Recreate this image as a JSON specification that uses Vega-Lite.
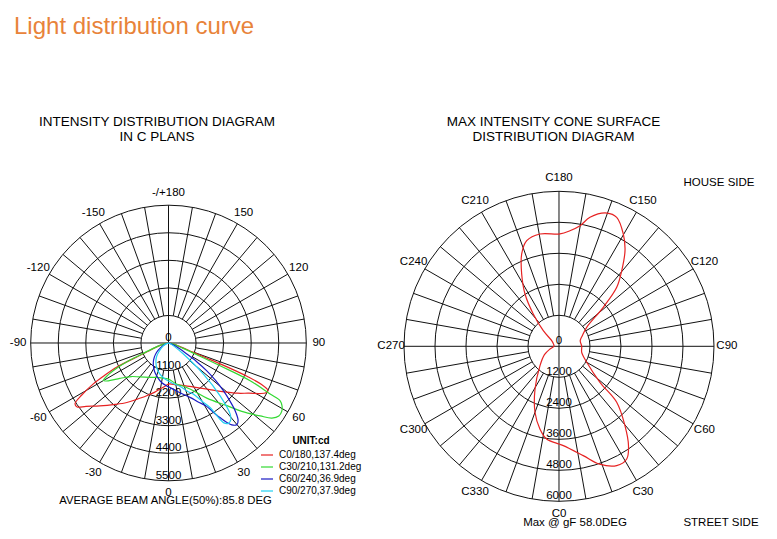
{
  "$schema": "https://vega.github.io/schema/vega-lite/v6.json",
  "padding": {"left": 0, "right": 0, "top": 15, "bottom": 0},
  "bounds": "flush",
  "spacing": 0,
  "background": "white",
  "resolve": {"scale": {"size": "independent", "color": "independent"}, "legend": {"size": "independent", "color": "independent"}},
  "title": {"text": "Light distribution curve", "anchor": "start", "frame": "group", "fontSize": 24, "color": "#E8833A", "font": "Liberation Sans", "fontWeight": "normal", "dx": 14, "offset": 76},
  "config": {"view": {"stroke": null}, "title": {"font": "Liberation Sans", "fontWeight": "normal", "color": "#000"}},
  "datasets": {
    "curves": [
      {"plane": "C0/180,137.4deg", "gamma": -90, "cd": 0},
      {"plane": "C0/180,137.4deg", "gamma": -80, "cd": 150},
      {"plane": "C0/180,137.4deg", "gamma": -72, "cd": 500},
      {"plane": "C0/180,137.4deg", "gamma": -68, "cd": 900},
      {"plane": "C0/180,137.4deg", "gamma": -66.5, "cd": 1300},
      {"plane": "C0/180,137.4deg", "gamma": -65, "cd": 2250},
      {"plane": "C0/180,137.4deg", "gamma": -63, "cd": 2900},
      {"plane": "C0/180,137.4deg", "gamma": -61.4, "cd": 3430},
      {"plane": "C0/180,137.4deg", "gamma": -59, "cd": 4050},
      {"plane": "C0/180,137.4deg", "gamma": -57, "cd": 4450},
      {"plane": "C0/180,137.4deg", "gamma": -55, "cd": 4450},
      {"plane": "C0/180,137.4deg", "gamma": -52.5, "cd": 4150},
      {"plane": "C0/180,137.4deg", "gamma": -47.5, "cd": 3720},
      {"plane": "C0/180,137.4deg", "gamma": -41, "cd": 3250},
      {"plane": "C0/180,137.4deg", "gamma": -35, "cd": 2900},
      {"plane": "C0/180,137.4deg", "gamma": -29, "cd": 2560},
      {"plane": "C0/180,137.4deg", "gamma": -22.5, "cd": 2280},
      {"plane": "C0/180,137.4deg", "gamma": -16, "cd": 2050},
      {"plane": "C0/180,137.4deg", "gamma": -10.5, "cd": 1870},
      {"plane": "C0/180,137.4deg", "gamma": -5, "cd": 1740},
      {"plane": "C0/180,137.4deg", "gamma": 0, "cd": 1640},
      {"plane": "C0/180,137.4deg", "gamma": 10, "cd": 1690},
      {"plane": "C0/180,137.4deg", "gamma": 20, "cd": 1810},
      {"plane": "C0/180,137.4deg", "gamma": 30, "cd": 2030},
      {"plane": "C0/180,137.4deg", "gamma": 40, "cd": 2400},
      {"plane": "C0/180,137.4deg", "gamma": 48, "cd": 2900},
      {"plane": "C0/180,137.4deg", "gamma": 54, "cd": 3410},
      {"plane": "C0/180,137.4deg", "gamma": 58, "cd": 3780},
      {"plane": "C0/180,137.4deg", "gamma": 61, "cd": 4160},
      {"plane": "C0/180,137.4deg", "gamma": 63, "cd": 4370},
      {"plane": "C0/180,137.4deg", "gamma": 64.5, "cd": 4400},
      {"plane": "C0/180,137.4deg", "gamma": 66, "cd": 4050},
      {"plane": "C0/180,137.4deg", "gamma": 67, "cd": 3400},
      {"plane": "C0/180,137.4deg", "gamma": 67.8, "cd": 2500},
      {"plane": "C0/180,137.4deg", "gamma": 68.5, "cd": 1600},
      {"plane": "C0/180,137.4deg", "gamma": 69.5, "cd": 1000},
      {"plane": "C0/180,137.4deg", "gamma": 72, "cd": 500},
      {"plane": "C0/180,137.4deg", "gamma": 80, "cd": 150},
      {"plane": "C0/180,137.4deg", "gamma": 90, "cd": 0},
      {"plane": "C30/210,131.2deg", "gamma": -90, "cd": 0},
      {"plane": "C30/210,131.2deg", "gamma": -80, "cd": 150},
      {"plane": "C30/210,131.2deg", "gamma": -72, "cd": 500},
      {"plane": "C30/210,131.2deg", "gamma": -68, "cd": 1000},
      {"plane": "C30/210,131.2deg", "gamma": -66, "cd": 1700},
      {"plane": "C30/210,131.2deg", "gamma": -64, "cd": 2300},
      {"plane": "C30/210,131.2deg", "gamma": -62, "cd": 2750},
      {"plane": "C30/210,131.2deg", "gamma": -60, "cd": 3000},
      {"plane": "C30/210,131.2deg", "gamma": -57.5, "cd": 2800},
      {"plane": "C30/210,131.2deg", "gamma": -54, "cd": 2400},
      {"plane": "C30/210,131.2deg", "gamma": -48, "cd": 2000},
      {"plane": "C30/210,131.2deg", "gamma": -40, "cd": 1770},
      {"plane": "C30/210,131.2deg", "gamma": -30, "cd": 1580},
      {"plane": "C30/210,131.2deg", "gamma": -19, "cd": 1450},
      {"plane": "C30/210,131.2deg", "gamma": -10, "cd": 1420},
      {"plane": "C30/210,131.2deg", "gamma": 0, "cd": 1440},
      {"plane": "C30/210,131.2deg", "gamma": 11, "cd": 1670},
      {"plane": "C30/210,131.2deg", "gamma": 20, "cd": 1850},
      {"plane": "C30/210,131.2deg", "gamma": 27.5, "cd": 2150},
      {"plane": "C30/210,131.2deg", "gamma": 35, "cd": 2700},
      {"plane": "C30/210,131.2deg", "gamma": 43, "cd": 3420},
      {"plane": "C30/210,131.2deg", "gamma": 47, "cd": 4000},
      {"plane": "C30/210,131.2deg", "gamma": 51.5, "cd": 4675},
      {"plane": "C30/210,131.2deg", "gamma": 54, "cd": 5100},
      {"plane": "C30/210,131.2deg", "gamma": 56.5, "cd": 5280},
      {"plane": "C30/210,131.2deg", "gamma": 59, "cd": 5275},
      {"plane": "C30/210,131.2deg", "gamma": 61, "cd": 5180},
      {"plane": "C30/210,131.2deg", "gamma": 62.6, "cd": 5020},
      {"plane": "C30/210,131.2deg", "gamma": 63.3, "cd": 4540},
      {"plane": "C30/210,131.2deg", "gamma": 65.2, "cd": 3590},
      {"plane": "C30/210,131.2deg", "gamma": 66.2, "cd": 2250},
      {"plane": "C30/210,131.2deg", "gamma": 67.5, "cd": 1200},
      {"plane": "C30/210,131.2deg", "gamma": 70, "cd": 600},
      {"plane": "C30/210,131.2deg", "gamma": 80, "cd": 150},
      {"plane": "C30/210,131.2deg", "gamma": 90, "cd": 0},
      {"plane": "C60/240,36.9deg", "gamma": -90, "cd": 0},
      {"plane": "C60/240,36.9deg", "gamma": -70, "cd": 150},
      {"plane": "C60/240,36.9deg", "gamma": -60, "cd": 350},
      {"plane": "C60/240,36.9deg", "gamma": -52, "cd": 600},
      {"plane": "C60/240,36.9deg", "gamma": -45, "cd": 800},
      {"plane": "C60/240,36.9deg", "gamma": -38, "cd": 985},
      {"plane": "C60/240,36.9deg", "gamma": -31, "cd": 1150},
      {"plane": "C60/240,36.9deg", "gamma": -25, "cd": 1290},
      {"plane": "C60/240,36.9deg", "gamma": -17, "cd": 1450},
      {"plane": "C60/240,36.9deg", "gamma": -10, "cd": 1600},
      {"plane": "C60/240,36.9deg", "gamma": 0, "cd": 1750},
      {"plane": "C60/240,36.9deg", "gamma": 8, "cd": 1900},
      {"plane": "C60/240,36.9deg", "gamma": 15, "cd": 2100},
      {"plane": "C60/240,36.9deg", "gamma": 22, "cd": 2350},
      {"plane": "C60/240,36.9deg", "gamma": 27, "cd": 2650},
      {"plane": "C60/240,36.9deg", "gamma": 30.5, "cd": 2900},
      {"plane": "C60/240,36.9deg", "gamma": 34.5, "cd": 3600},
      {"plane": "C60/240,36.9deg", "gamma": 37.7, "cd": 4130},
      {"plane": "C60/240,36.9deg", "gamma": 40, "cd": 4250},
      {"plane": "C60/240,36.9deg", "gamma": 42, "cd": 4150},
      {"plane": "C60/240,36.9deg", "gamma": 44.5, "cd": 3800},
      {"plane": "C60/240,36.9deg", "gamma": 47, "cd": 3300},
      {"plane": "C60/240,36.9deg", "gamma": 49, "cd": 2900},
      {"plane": "C60/240,36.9deg", "gamma": 51.5, "cd": 2400},
      {"plane": "C60/240,36.9deg", "gamma": 54, "cd": 1890},
      {"plane": "C60/240,36.9deg", "gamma": 56.5, "cd": 1350},
      {"plane": "C60/240,36.9deg", "gamma": 59, "cd": 850},
      {"plane": "C60/240,36.9deg", "gamma": 63, "cd": 450},
      {"plane": "C60/240,36.9deg", "gamma": 70, "cd": 150},
      {"plane": "C60/240,36.9deg", "gamma": 80, "cd": 30},
      {"plane": "C60/240,36.9deg", "gamma": 90, "cd": 0},
      {"plane": "C90/270,37.9deg", "gamma": -90, "cd": 0},
      {"plane": "C90/270,37.9deg", "gamma": -70, "cd": 100},
      {"plane": "C90/270,37.9deg", "gamma": -60, "cd": 250},
      {"plane": "C90/270,37.9deg", "gamma": -50, "cd": 450},
      {"plane": "C90/270,37.9deg", "gamma": -42, "cd": 700},
      {"plane": "C90/270,37.9deg", "gamma": -34, "cd": 900},
      {"plane": "C90/270,37.9deg", "gamma": -25, "cd": 1100},
      {"plane": "C90/270,37.9deg", "gamma": -15, "cd": 1300},
      {"plane": "C90/270,37.9deg", "gamma": -5, "cd": 1450},
      {"plane": "C90/270,37.9deg", "gamma": 5, "cd": 1600},
      {"plane": "C90/270,37.9deg", "gamma": 15, "cd": 1800},
      {"plane": "C90/270,37.9deg", "gamma": 22, "cd": 2100},
      {"plane": "C90/270,37.9deg", "gamma": 26, "cd": 2270},
      {"plane": "C90/270,37.9deg", "gamma": 30, "cd": 2700},
      {"plane": "C90/270,37.9deg", "gamma": 32.8, "cd": 3060},
      {"plane": "C90/270,37.9deg", "gamma": 34.6, "cd": 3860},
      {"plane": "C90/270,37.9deg", "gamma": 36.7, "cd": 4000},
      {"plane": "C90/270,37.9deg", "gamma": 39, "cd": 3950},
      {"plane": "C90/270,37.9deg", "gamma": 40.9, "cd": 3760},
      {"plane": "C90/270,37.9deg", "gamma": 44.3, "cd": 2950},
      {"plane": "C90/270,37.9deg", "gamma": 48.3, "cd": 1865},
      {"plane": "C90/270,37.9deg", "gamma": 53.4, "cd": 740},
      {"plane": "C90/270,37.9deg", "gamma": 60, "cd": 250},
      {"plane": "C90/270,37.9deg", "gamma": 70, "cd": 80},
      {"plane": "C90/270,37.9deg", "gamma": 90, "cd": 0}
    ],
    "cone": [
      {"c": 0, "cd": 3780}, {"c": 2.5, "cd": 3850}, {"c": 12.5, "cd": 4335}, {"c": 19, "cd": 4825},
      {"c": 25.8, "cd": 5130}, {"c": 31, "cd": 5090}, {"c": 35, "cd": 4690}, {"c": 39.7, "cd": 4000},
      {"c": 45.9, "cd": 3110}, {"c": 48.7, "cd": 2110}, {"c": 60, "cd": 1240}, {"c": 75, "cd": 910},
      {"c": 90, "cd": 880}, {"c": 105, "cd": 850}, {"c": 115, "cd": 1000}, {"c": 124.4, "cd": 1300},
      {"c": 131.4, "cd": 2285}, {"c": 135.6, "cd": 3195}, {"c": 140.3, "cd": 3800}, {"c": 145.4, "cd": 4500},
      {"c": 150.2, "cd": 5010}, {"c": 155.9, "cd": 5470}, {"c": 160.3, "cd": 5480}, {"c": 166.5, "cd": 5135},
      {"c": 170.1, "cd": 4740}, {"c": 174.6, "cd": 4495}, {"c": 179.5, "cd": 4350}, {"c": 189.6, "cd": 4410},
      {"c": 197, "cd": 4275}, {"c": 202, "cd": 3855}, {"c": 207.3, "cd": 3150}, {"c": 213, "cd": 2415},
      {"c": 218.5, "cd": 1600}, {"c": 225.2, "cd": 856}, {"c": 232.5, "cd": 356}, {"c": 250, "cd": 220},
      {"c": 270, "cd": 195}, {"c": 286.7, "cd": 364}, {"c": 300, "cd": 650}, {"c": 315.6, "cd": 1050},
      {"c": 330.7, "cd": 1895}, {"c": 340, "cd": 2717}, {"c": 347, "cd": 3285}, {"c": 352.4, "cd": 3620}
    ],
    "spokesL": [
      {"a": 0, "f": 0, "t": 5500}, {"a": 10, "f": 1100, "t": 5500}, {"a": 20, "f": 1100, "t": 5500}, {"a": 30, "f": 1100, "t": 5500},
      {"a": 40, "f": 1100, "t": 5500}, {"a": 50, "f": 1100, "t": 5500}, {"a": 60, "f": 1100, "t": 5500}, {"a": 70, "f": 1100, "t": 5500},
      {"a": 80, "f": 1100, "t": 5500}, {"a": 90, "f": 0, "t": 5500}, {"a": 100, "f": 1100, "t": 5500}, {"a": 110, "f": 1100, "t": 5500},
      {"a": 120, "f": 1100, "t": 5500}, {"a": 130, "f": 1100, "t": 5500}, {"a": 140, "f": 1100, "t": 5500}, {"a": 150, "f": 1100, "t": 5500},
      {"a": 160, "f": 1100, "t": 5500}, {"a": 170, "f": 1100, "t": 5500}, {"a": 180, "f": 0, "t": 5500}, {"a": 190, "f": 1100, "t": 5500},
      {"a": 200, "f": 1100, "t": 5500}, {"a": 210, "f": 1100, "t": 5500}, {"a": 220, "f": 1100, "t": 5500}, {"a": 230, "f": 1100, "t": 5500},
      {"a": 240, "f": 1100, "t": 5500}, {"a": 250, "f": 1100, "t": 5500}, {"a": 260, "f": 1100, "t": 5500}, {"a": 270, "f": 0, "t": 5500},
      {"a": 280, "f": 1100, "t": 5500}, {"a": 290, "f": 1100, "t": 5500}, {"a": 300, "f": 1100, "t": 5500}, {"a": 310, "f": 1100, "t": 5500},
      {"a": 320, "f": 1100, "t": 5500}, {"a": 330, "f": 1100, "t": 5500}, {"a": 340, "f": 1100, "t": 5500}, {"a": 350, "f": 1100, "t": 5500}
    ],
    "spokesR": [
      {"a": 0, "f": 0, "t": 6000}, {"a": 10, "f": 1200, "t": 6000}, {"a": 20, "f": 1200, "t": 6000}, {"a": 30, "f": 1200, "t": 6000},
      {"a": 40, "f": 1200, "t": 6000}, {"a": 50, "f": 1200, "t": 6000}, {"a": 60, "f": 1200, "t": 6000}, {"a": 70, "f": 1200, "t": 6000},
      {"a": 80, "f": 1200, "t": 6000}, {"a": 90, "f": 0, "t": 6000}, {"a": 100, "f": 1200, "t": 6000}, {"a": 110, "f": 1200, "t": 6000},
      {"a": 120, "f": 1200, "t": 6000}, {"a": 130, "f": 1200, "t": 6000}, {"a": 140, "f": 1200, "t": 6000}, {"a": 150, "f": 1200, "t": 6000},
      {"a": 160, "f": 1200, "t": 6000}, {"a": 170, "f": 1200, "t": 6000}, {"a": 180, "f": 0, "t": 6000}, {"a": 190, "f": 1200, "t": 6000},
      {"a": 200, "f": 1200, "t": 6000}, {"a": 210, "f": 1200, "t": 6000}, {"a": 220, "f": 1200, "t": 6000}, {"a": 230, "f": 1200, "t": 6000},
      {"a": 240, "f": 1200, "t": 6000}, {"a": 250, "f": 1200, "t": 6000}, {"a": 260, "f": 1200, "t": 6000}, {"a": 270, "f": 0, "t": 6000},
      {"a": 280, "f": 1200, "t": 6000}, {"a": 290, "f": 1200, "t": 6000}, {"a": 300, "f": 1200, "t": 6000}, {"a": 310, "f": 1200, "t": 6000},
      {"a": 320, "f": 1200, "t": 6000}, {"a": 330, "f": 1200, "t": 6000}, {"a": 340, "f": 1200, "t": 6000}, {"a": 350, "f": 1200, "t": 6000}
    ],
    "ringsL": [{"r": 1100}, {"r": 2200}, {"r": 3300}, {"r": 4400}, {"r": 5500}],
    "ringsR": [{"r": 1200}, {"r": 2400}, {"r": 3600}, {"r": 4800}, {"r": 6000}],
    "ringLabelsL": [{"label": "0", "r": 0}, {"label": "1100", "r": 1100}, {"label": "2200", "r": 2200}, {"label": "3300", "r": 3300}, {"label": "4400", "r": 4400}, {"label": "5500", "r": 5500}],
    "ringLabelsR": [{"label": "0", "r": 0}, {"label": "1200", "r": 1200}, {"label": "2400", "r": 2400}, {"label": "3600", "r": 3600}, {"label": "4800", "r": 4800}, {"label": "6000", "r": 6000}],
    "angleLabelsL": [
      {"label": "0", "a": 0}, {"label": "30", "a": 30}, {"label": "60", "a": 60}, {"label": "90", "a": 90},
      {"label": "120", "a": 120}, {"label": "150", "a": 150}, {"label": "-/+180", "a": 180}, {"label": "-150", "a": 210},
      {"label": "-120", "a": 240}, {"label": "-90", "a": 270}, {"label": "-60", "a": 300}, {"label": "-30", "a": 330}
    ],
    "angleLabelsR": [
      {"label": "C0", "a": 0}, {"label": "C30", "a": 30}, {"label": "C60", "a": 60}, {"label": "C90", "a": 90},
      {"label": "C120", "a": 120}, {"label": "C150", "a": 150}, {"label": "C180", "a": 180}, {"label": "C210", "a": 210},
      {"label": "C240", "a": 240}, {"label": "C270", "a": 270}, {"label": "C300", "a": 300}, {"label": "C330", "a": 330}
    ]
  },
  "hconcat": [
    {
      "width": 380,
      "height": 389,
      "title": {"text": ["INTENSITY DISTRIBUTION DIAGRAM", "IN C PLANS"], "fontSize": 13.5, "lineHeight": 14.5, "offset": 6, "dx": -33, "anchor": "middle"},
      "layer": [
        {
          "data": {"name": "ringsL"},
          "mark": {"type": "point", "shape": "circle", "filled": false, "stroke": "#111", "strokeWidth": 1, "opacity": 1},
          "encoding": {
            "x": {"datum": 0, "type": "quantitative", "scale": {"domain": [-6725, 8441], "nice": false, "zero": false}, "axis": null},
            "y": {"datum": 0, "type": "quantitative", "scale": {"domain": [-7783, 7743], "nice": false, "zero": false}, "axis": null},
            "size": {"field": "r", "type": "quantitative", "scale": {"type": "pow", "exponent": 2, "domain": [0, 5500], "range": [0, 75955], "zero": true, "nice": false}, "legend": null}
          }
        },
        {
          "data": {"name": "spokesL"},
          "transform": [
            {"calculate": "datum.f*sin(datum.a*PI/180)", "as": "x1"},
            {"calculate": "-datum.f*cos(datum.a*PI/180)", "as": "y1"},
            {"calculate": "datum.t*sin(datum.a*PI/180)", "as": "x2"},
            {"calculate": "-datum.t*cos(datum.a*PI/180)", "as": "y2"}
          ],
          "mark": {"type": "rule", "color": "#111", "strokeWidth": 1},
          "encoding": {
            "x": {"field": "x1", "type": "quantitative", "scale": {"domain": [-6725, 8441], "nice": false, "zero": false}, "axis": null},
            "y": {"field": "y1", "type": "quantitative", "scale": {"domain": [-7783, 7743], "nice": false, "zero": false}, "axis": null},
            "x2": {"field": "x2"},
            "y2": {"field": "y2"}
          }
        },
        {
          "data": {"name": "ringLabelsL"},
          "transform": [{"calculate": "-datum.r", "as": "y"}],
          "mark": {"type": "text", "font": "Liberation Sans", "fontSize": 11.5, "align": "center", "baseline": "alphabetic", "dy": -2, "color": "#000"},
          "encoding": {
            "x": {"datum": 0, "type": "quantitative"},
            "y": {"field": "y", "type": "quantitative"},
            "text": {"field": "label"}
          }
        },
        {
          "data": {"name": "angleLabelsL"},
          "transform": [
            {"calculate": "6000*sin(datum.a*PI/180)", "as": "x"},
            {"calculate": "-6000*cos(datum.a*PI/180)", "as": "y"}
          ],
          "mark": {"type": "text", "font": "Liberation Sans", "fontSize": 11.5, "align": "center", "baseline": "middle", "color": "#000"},
          "encoding": {
            "x": {"field": "x", "type": "quantitative"},
            "y": {"field": "y", "type": "quantitative"},
            "text": {"field": "label"}
          }
        },
        {
          "data": {"name": "curves"},
          "transform": [
            {"calculate": "datum.cd*sin(datum.gamma*PI/180)", "as": "x"},
            {"calculate": "-datum.cd*cos(datum.gamma*PI/180)", "as": "y"}
          ],
          "mark": {"type": "line", "interpolate": "catmull-rom", "strokeWidth": 1.2},
          "encoding": {
            "x": {"field": "x", "type": "quantitative"},
            "y": {"field": "y", "type": "quantitative"},
            "order": {"field": "gamma", "type": "quantitative"},
            "color": {
              "field": "plane", "type": "nominal",
              "scale": {"domain": ["C0/180,137.4deg", "C30/210,131.2deg", "C60/240,36.9deg", "C90/270,37.9deg"], "range": ["#E62222", "#33D933", "#1A1AC4", "#22D0F0"]},
              "legend": {"orient": "none", "legendX": 260, "legendY": 287, "title": "UNIT:cd", "titleFont": "Liberation Sans", "titleFontSize": 10, "titleFontWeight": "bold", "titleColor": "#000", "titleAnchor": "middle", "titlePadding": 2, "labelFont": "Liberation Sans", "labelFontSize": 10, "labelColor": "#000", "labelOffset": 5, "symbolType": "stroke", "symbolSize": 144, "symbolStrokeWidth": 1.2, "rowPadding": 0}
            }
          }
        },
        {
          "data": {"values": [{"note": "AVERAGE BEAM ANGLE(50%):85.8 DEG"}]},
          "mark": {"type": "text", "font": "Liberation Sans", "fontSize": 11.3, "align": "center", "baseline": "middle", "color": "#000"},
          "encoding": {
            "x": {"datum": -120, "type": "quantitative"},
            "y": {"datum": -6300, "type": "quantitative"},
            "text": {"field": "note"}
          }
        }
      ]
    },
    {
      "width": 397,
      "height": 389,
      "title": {"text": ["MAX INTENSITY CONE SURFACE", "DISTRIBUTION DIAGRAM"], "fontSize": 13.5, "lineHeight": 14.5, "offset": 6, "dx": -25, "anchor": "middle"},
      "layer": [
        {
          "data": {"name": "ringsR"},
          "mark": {"type": "point", "shape": "circle", "filled": false, "stroke": "#111", "strokeWidth": 1, "opacity": 1},
          "encoding": {
            "x": {"datum": 0, "type": "quantitative", "scale": {"domain": [-6929, 8439], "nice": false, "zero": false}, "axis": null},
            "y": {"datum": 0, "type": "quantitative", "scale": {"domain": [-7421, 7638], "nice": false, "zero": false}, "axis": null},
            "size": {"field": "r", "type": "quantitative", "scale": {"type": "pow", "exponent": 2, "domain": [0, 6000], "range": [0, 96100], "zero": true, "nice": false}, "legend": null}
          }
        },
        {
          "data": {"name": "spokesR"},
          "transform": [
            {"calculate": "datum.f*sin(datum.a*PI/180)", "as": "x1"},
            {"calculate": "-datum.f*cos(datum.a*PI/180)", "as": "y1"},
            {"calculate": "datum.t*sin(datum.a*PI/180)", "as": "x2"},
            {"calculate": "-datum.t*cos(datum.a*PI/180)", "as": "y2"}
          ],
          "mark": {"type": "rule", "color": "#111", "strokeWidth": 1},
          "encoding": {
            "x": {"field": "x1", "type": "quantitative", "scale": {"domain": [-6929, 8439], "nice": false, "zero": false}, "axis": null},
            "y": {"field": "y1", "type": "quantitative", "scale": {"domain": [-7421, 7638], "nice": false, "zero": false}, "axis": null},
            "x2": {"field": "x2"},
            "y2": {"field": "y2"}
          }
        },
        {
          "data": {"name": "ringLabelsR"},
          "transform": [{"calculate": "-datum.r", "as": "y"}],
          "mark": {"type": "text", "font": "Liberation Sans", "fontSize": 11.5, "align": "center", "baseline": "alphabetic", "dy": -2, "color": "#000"},
          "encoding": {
            "x": {"datum": 0, "type": "quantitative"},
            "y": {"field": "y", "type": "quantitative"},
            "text": {"field": "label"}
          }
        },
        {
          "data": {"name": "angleLabelsR"},
          "transform": [
            {"calculate": "6500*sin(datum.a*PI/180)", "as": "x"},
            {"calculate": "-6500*cos(datum.a*PI/180)", "as": "y"}
          ],
          "mark": {"type": "text", "font": "Liberation Sans", "fontSize": 11.5, "align": "center", "baseline": "middle", "color": "#000"},
          "encoding": {
            "x": {"field": "x", "type": "quantitative"},
            "y": {"field": "y", "type": "quantitative"},
            "text": {"field": "label"}
          }
        },
        {
          "data": {"name": "cone"},
          "transform": [
            {"calculate": "datum.cd*sin(datum.c*PI/180)", "as": "x"},
            {"calculate": "-datum.cd*cos(datum.c*PI/180)", "as": "y"}
          ],
          "mark": {"type": "line", "interpolate": "catmull-rom-closed", "strokeWidth": 1.2, "color": "#E62222"},
          "encoding": {
            "x": {"field": "x", "type": "quantitative"},
            "y": {"field": "y", "type": "quantitative"},
            "order": {"field": "c", "type": "quantitative"}
          }
        },
        {
          "data": {"values": [
            {"note": "HOUSE SIDE", "px": 6194, "py": 6321},
            {"note": "STREET SIDE", "px": 6271, "py": -6840},
            {"note": "Max @ gF 58.0DEG", "px": 619, "py": -6840}
          ]},
          "mark": {"type": "text", "font": "Liberation Sans", "fontSize": 11.5, "align": "center", "baseline": "middle", "color": "#000"},
          "encoding": {
            "x": {"field": "px", "type": "quantitative"},
            "y": {"field": "py", "type": "quantitative"},
            "text": {"field": "note"}
          }
        }
      ]
    }
  ]
}
